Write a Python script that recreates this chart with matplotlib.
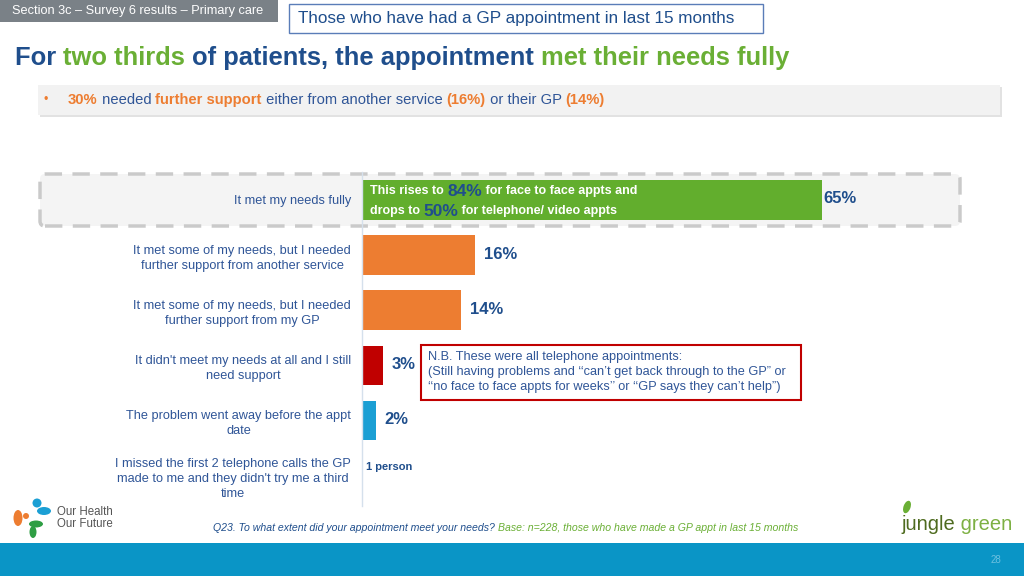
import matplotlib
matplotlib.use('Agg')
import matplotlib.pyplot as plt
from matplotlib.patches import Rectangle, FancyBboxPatch, Ellipse
from matplotlib.transforms import IdentityTransform

plt.rcParams['font.family'] = ['Liberation Sans', 'DejaVu Sans']

# Data
categories = [
    'It met my needs fully',
    'It met some of my needs, but I needed\nfurther support from another service',
    'It met some of my needs, but I needed\nfurther support from my GP',
    "It didn't meet my needs at all and I still\nneed support",
    'The problem went away before the appt\ndate',
    "I missed the first 2 telephone calls the GP\nmade to me and they didn't try me a third\ntime",
]
values = [65, 16, 14, 3, 2, 0]
value_labels = ['65%', '16%', '14%', '3%', '2%', '1 person']
bar_colors = ['#62AE2D', '#ED7D31', '#ED7D31', '#C00000', '#1B9FD4', '#1B9FD4']

DARK = '#1F4E8C'
LABEL = '#2F5597'
GREEN = '#6AAF35'
ORANGE = '#ED7D31'

W, H = 1024, 576
fig = plt.figure(figsize=(W / 100, H / 100), dpi=100)
fig.patch.set_facecolor('white')
ident = IdentityTransform()


def px(x, y):
    # image pixel (top origin) -> display coords
    return x, H - y


def rich(x, y, parts, va='center'):
    # draw a line of differently styled text pieces next to each other
    r = fig.canvas.get_renderer()
    for s, kw in parts:
        t = fig.text(*px(x, y), s, transform=ident, va=va, ha='left', **kw)
        bb = t.get_window_extent(renderer=r)
        x = bb.x1


def rect(x0, y0, x1, y1, **kw):
    p = Rectangle((x0, H - y1), x1 - x0, y1 - y0, transform=ident, **kw)
    fig.patches.append(p)
    return p


# header
rect(0, 0, 278, 22, facecolor='#7A8187', edgecolor='none')
fig.text(*px(12, 11), 'Section 3c \u2013 Survey 6 results \u2013 Primary care', transform=ident,
         color='white', fontsize=9.2, va='center')
rect(289, 4, 763, 33, facecolor='white', edgecolor='#5A7DB8', linewidth=1)
fig.text(*px(298, 19), 'Those who have had a GP appointment in last 15 months', transform=ident,
         color=DARK, fontsize=12.3, va='center')

# title
bold = dict(fontsize=18.4, fontweight='bold')
rich(15, 58, [('For ', dict(color=DARK, **bold)),
              ('two thirds ', dict(color=GREEN, **bold)),
              ('of patients, the appointment ', dict(color=DARK, **bold)),
              ('met their needs fully', dict(color=GREEN, **bold))])

# bullet strip
rect(40, 87, 1002, 117, facecolor='#E2E2E2', edgecolor='none')
rect(38, 85, 1000, 115, facecolor='#F2F2F2', edgecolor='none')
fig.text(*px(44, 100), '\u2022', transform=ident, color=ORANGE, fontsize=9, va='center')
ob = dict(color=ORANGE, fontsize=10.6, fontweight='bold')
bl = dict(color=LABEL, fontsize=10.6)
rich(68, 100, [('30%', ob), (' needed ', bl), ('further support', ob),
               (' either from another service ', bl), ('(16%)', ob),
               (' or their GP ', bl), ('(14%)', ob)])

# dashed highlight box behind first row
hb = FancyBboxPatch((40, H - 226), 920, 52, boxstyle='round,pad=0,rounding_size=5',
                    transform=ident, facecolor='#F4F4F4', edgecolor='#CACACA',
                    linewidth=2.5, linestyle=(0, (5, 3)), zorder=-1)
fig.patches.append(hb)

# bar chart
ax_top, ax_bot = 172.4, 506
ax = fig.add_axes([362 / W, 1 - ax_bot / H, 600 / W, (ax_bot - ax_top) / H])
ax.set_zorder(2)
ax.patch.set_alpha(0)
y = list(range(len(categories)))
ax.barh(y, values, height=0.72, color=bar_colors)
ax.set_xlim(0, 84.7)
ax.set_ylim(5.55, -0.5)
for side in ['top', 'right', 'bottom']:
    ax.spines[side].set_visible(False)
ax.spines['left'].set_color('#D5E0EC')
ax.spines['left'].set_linewidth(1)
ax.set_xticks([])
ax.set_yticks(y)
ax.set_yticklabels(categories, fontsize=9.2, color=LABEL, multialignment='center',
                   linespacing=1.35)
ax.tick_params(axis='y', length=0, pad=8)

label_gap = [1, 6, 6, 6, 6, 3]  # points between bar end and its label
for i, (v, lab) in enumerate(zip(values, value_labels)):
    if v > 0:
        ax.annotate(lab, (v, i - 0.02), xytext=(label_gap[i], 0), textcoords='offset points',
                    fontsize=12, fontweight='bold', color=DARK, va='center')
    else:
        ax.annotate(lab, (v, i - 0.15), xytext=(label_gap[i], 0), textcoords='offset points',
                    fontsize=8, fontweight='bold', color=DARK, va='center')

# text inside the green bar
wb = dict(color='white', fontsize=9, fontweight='bold')
db = dict(color=DARK, fontsize=12.5, fontweight='bold')
rich(370, 191, [('This rises to ', wb), ('84%', db), (' for face to face appts and', wb)])
rich(370, 211, [('drops to ', wb), ('50%', db), (' for telephone/ video appts', wb)])

# note box
rect(421, 345, 801, 400, facecolor='white', edgecolor='#C00000', linewidth=1.5)
fig.text(*px(428, 372),
         'N.B. These were all telephone appointments:\n'
         '(Still having problems and \u2018\u2018can\u2019t get back through to the GP\u201d or\n'
         '\u2018\u2018no face to face appts for weeks\u2019\u2019 or \u2018\u2018GP says they can\u2019t help\u201d)',
         transform=ident, color=LABEL, fontsize=9.2, va='center', linespacing=1.38)

# footnote
rich(213, 528, [('Q23. To what extent did your appointment meet your needs? ',
                 dict(color=DARK, fontsize=7.6, style='italic')),
                ('Base: n=228, those who have made a GP appt in last 15 months',
                 dict(color=GREEN, fontsize=7.6, style='italic'))])

# footer band
rect(0, 543, W, H, facecolor='#0A95C6', edgecolor='none')
fig.text(*px(996, 560), '28', transform=ident, color='#6CC0E0', fontsize=7, va='center', ha='center')

# Our Health Our Future logo (simple shapes)
for (cx, cy, w, h, c) in [(37, 503, 9, 9, '#1B9FD4'), (44, 511, 14, 8, '#1B9FD4'),
                          (18, 518, 9, 16, '#ED7D31'), (26, 516, 6, 6, '#ED7D31'),
                          (36, 524, 14, 7, '#2E9E44'), (33, 532, 7, 12, '#2E9E44')]:
    e = Ellipse(px(cx, cy), w, h, transform=ident, facecolor=c, edgecolor='none')
    fig.patches.append(e)
fig.text(*px(57, 518), 'Our Health\nOur Future', transform=ident, color='#555555',
         fontsize=8.3, va='center', linespacing=1.1)

# jungle green logo
e = Ellipse(px(907, 507), 7, 13, angle=-20, transform=ident, facecolor='#6AAF35', edgecolor='none')
fig.patches.append(e)
rich(901, 524, [('jungle', dict(color='#4E6B1F', fontsize=14.5)),
                (' green', dict(color='#7DB043', fontsize=14.5))])

fig.savefig('out.png', dpi=100)
